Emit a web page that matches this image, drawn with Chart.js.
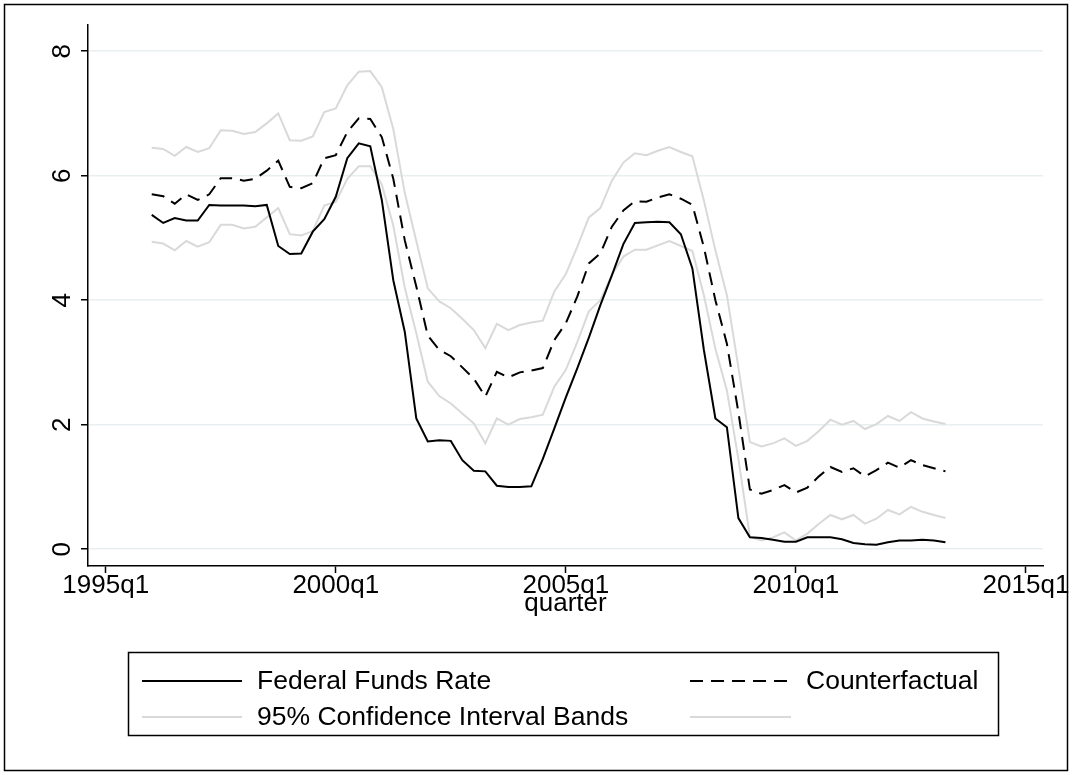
<!DOCTYPE html>
<html><head><meta charset="utf-8">
<script src="https://cdn.jsdelivr.net/npm/chart.js@4/dist/chart.umd.min.js"></script>
<style>html,body{margin:0;padding:0;background:#fff;}canvas{display:block;}</style>
</head><body>
<canvas id="c" width="1072" height="775"></canvas>
<script>
const quarters = [
 '1996q1','1996q2','1996q3','1996q4','1997q1','1997q2','1997q3','1997q4',
 '1998q1','1998q2','1998q3','1998q4','1999q1','1999q2','1999q3','1999q4',
 '2000q1','2000q2','2000q3','2000q4','2001q1','2001q2','2001q3','2001q4',
 '2002q1','2002q2','2002q3','2002q4','2003q1','2003q2','2003q3','2003q4',
 '2004q1','2004q2','2004q3','2004q4','2005q1','2005q2','2005q3','2005q4',
 '2006q1','2006q2','2006q3','2006q4','2007q1','2007q2','2007q3','2007q4',
 '2008q1','2008q2','2008q3','2008q4','2009q1','2009q2','2009q3','2009q4',
 '2010q1','2010q2','2010q3','2010q4','2011q1','2011q2','2011q3','2011q4',
 '2012q1','2012q2','2012q3','2012q4','2013q1','2013q2'];
const fedFunds = [
 5.37,5.24,5.32,5.28,5.28,5.53,5.52,5.52,5.52,5.51,5.53,4.87,4.74,4.75,
 5.10,5.30,5.66,6.28,6.52,6.47,5.61,4.32,3.49,2.10,1.73,1.75,1.74,1.43,
 1.26,1.25,1.02,1.00,1.00,1.01,1.45,1.94,2.44,2.91,3.40,3.92,4.40,4.90,
 5.24,5.25,5.26,5.25,5.06,4.51,3.20,2.10,1.96,0.50,0.19,0.18,0.15,0.12,
 0.12,0.19,0.19,0.19,0.16,0.10,0.08,0.07,0.11,0.14,0.14,0.15,0.14,0.11];
const counterfactual = [
 5.70,5.67,5.55,5.70,5.61,5.70,5.96,5.96,5.92,5.95,6.08,6.24,5.82,5.80,
 5.88,6.28,6.33,6.70,6.92,6.91,6.62,5.95,4.96,4.22,3.43,3.20,3.10,2.92,
 2.74,2.45,2.85,2.76,2.84,2.87,2.91,3.36,3.63,4.06,4.59,4.75,5.18,5.44,
 5.59,5.58,5.65,5.70,5.63,5.53,4.85,4.00,3.30,2.20,0.96,0.89,0.95,1.03,
 0.91,0.99,1.17,1.32,1.24,1.30,1.17,1.27,1.39,1.31,1.43,1.35,1.30,1.25];
const ciUpper = [
 6.45,6.43,6.32,6.46,6.38,6.44,6.73,6.72,6.67,6.70,6.84,7.00,6.57,6.56,
 6.63,7.02,7.08,7.45,7.67,7.68,7.42,6.75,5.72,4.95,4.19,3.98,3.87,3.70,
 3.52,3.23,3.62,3.52,3.60,3.64,3.67,4.14,4.42,4.86,5.33,5.48,5.92,6.21,
 6.36,6.33,6.40,6.46,6.38,6.31,5.60,4.80,4.08,2.92,1.72,1.65,1.70,1.78,
 1.66,1.74,1.90,2.08,2.00,2.06,1.93,2.01,2.14,2.06,2.20,2.10,2.05,2.01];
const ciLower = [
 4.94,4.91,4.80,4.95,4.86,4.93,5.21,5.21,5.15,5.18,5.33,5.48,5.06,5.04,
 5.11,5.52,5.58,5.95,6.15,6.15,5.86,5.20,4.20,3.47,2.69,2.46,2.34,2.18,
 2.02,1.70,2.10,2.00,2.09,2.12,2.16,2.61,2.88,3.33,3.82,4.00,4.41,4.70,
 4.81,4.81,4.88,4.95,4.87,4.79,4.08,3.22,2.55,1.45,0.20,0.14,0.19,0.27,
 0.14,0.25,0.41,0.55,0.48,0.55,0.41,0.49,0.63,0.56,0.68,0.60,0.55,0.50];
const yTickValues = [0, 2, 4, 6, 8];
const xTickLabels = ['1995q1', '2000q1', '2005q1', '2010q1', '2015q1'];
const seriesNames = ['Federal Funds Rate', 'Counterfactual', '95% Confidence Interval Bands', ''];
const xTitle = 'quarter';

function tq(s) { const m = /(\d{4})q(\d)/.exec(s); return (+m[1] - 1960) * 4 + (+m[2] - 1); }
function fmtq(v) { const y = Math.floor(v / 4) + 1960; return y + 'q' + (v - (y - 1960) * 4 + 1); }
function pts(arr) { return arr.map((v, i) => ({ x: tq(quarters[i]), y: v })); }

const FONT = 'Liberation Sans, Arial, Helvetica, sans-serif';
const GRID = '#e8eff1';
const CI = '#d9d9d9';

const frameAndLegend = {
  id: 'frameAndLegend',
  afterDraw(chart) {
    const ctx = chart.ctx;
    ctx.save();
    const ys = chart.scales.y;
    ctx.fillStyle = '#000';
    ctx.font = '26px ' + FONT;
    ctx.textAlign = 'center';
    ctx.textBaseline = 'middle';
    ys.ticks.forEach(t => {
      const py = ys.getPixelForValue(t.value);
      ctx.save();
      ctx.translate(63, py);
      ctx.rotate(-Math.PI / 2);
      ctx.fillText(String(t.value), 0, 0);
      ctx.restore();
    });
    ctx.strokeStyle = '#000';
    ctx.lineWidth = 1.5;
    ctx.strokeRect(4.5, 4.5, 1063, 766);
    const bx = 128.5, by = 652.5, bw = 870, bh = 83;
    ctx.strokeRect(bx, by, bw, bh);
    const ds = chart.data.datasets;
    const entries = [
      { d: ds[0], x1: 142, x2: 242, tx: 257, y: 681, label: seriesNames[0] },
      { d: ds[1], x1: 690, x2: 795, tx: 806, y: 681, label: seriesNames[1] },
      { d: ds[2], x1: 142, x2: 242, tx: 257, y: 717, label: seriesNames[2] },
      { d: ds[3], x1: 690, x2: 791, tx: 806, y: 717, label: seriesNames[3] }
    ];
    ctx.font = '26.5px ' + FONT;
    ctx.textAlign = 'left';
    ctx.textBaseline = 'middle';
    entries.forEach(e => {
      ctx.beginPath();
      ctx.strokeStyle = e.d.borderColor;
      ctx.lineWidth = e.d.borderWidth;
      ctx.setLineDash(e.d.borderDash || []);
      ctx.moveTo(e.x1, e.y); ctx.lineTo(e.x2, e.y);
      ctx.stroke();
      ctx.setLineDash([]);
      ctx.fillStyle = '#000';
      if (e.label) ctx.fillText(e.label, e.tx, e.y + 1);
    });
    ctx.restore();
  }
};

new Chart(document.getElementById('c'), {
  type: 'line',
  data: {
    datasets: [
      { label: seriesNames[0], data: pts(fedFunds), borderColor: '#000', borderWidth: 2, pointRadius: 0, fill: false },
      { label: seriesNames[1], data: pts(counterfactual), borderColor: '#000', borderWidth: 2, borderDash: [13, 8], pointRadius: 0, fill: false },
      { label: seriesNames[2], data: pts(ciUpper), borderColor: CI, borderWidth: 2, pointRadius: 0, fill: false },
      { label: 'lower', data: pts(ciLower), borderColor: CI, borderWidth: 2, pointRadius: 0, fill: false }
    ]
  },
  options: {
    responsive: false, animation: false, devicePixelRatio: 1,
    layout: { padding: { left: 0, right: 29, top: 25, bottom: 159 } },
    plugins: { legend: { display: false }, tooltip: { enabled: false } },
    elements: { line: { tension: 0 } },
    scales: {
      x: {
        type: 'linear',
        min: tq(xTickLabels[0]) - 1.54, max: tq(xTickLabels[xTickLabels.length - 1]) + 1.48,
        afterBuildTicks: s => { s.ticks = xTickLabels.map(l => ({ value: tq(l) })); },
        afterFit: s => { s.height = 50; },
        ticks: { callback: v => fmtq(v), color: '#000', font: { family: FONT, size: 26 }, maxRotation: 0, minRotation: 0, autoSkip: false, padding: -3 },
        grid: { drawOnChartArea: false, drawTicks: true, tickLength: 7, tickColor: '#000', tickWidth: 1.5 },
        border: { display: true, color: '#000', width: 1.5 },
        title: { display: true, text: xTitle, color: '#000', font: { family: FONT, size: 26 }, padding: { top: 0, bottom: -3 } }
      },
      y: {
        min: -0.27, max: 8.42,
        afterBuildTicks: s => { s.ticks = yTickValues.map(v => ({ value: v })); },
        afterFit: s => { s.width = 88; },
        ticks: { display: false },
        grid: { color: GRID, lineWidth: 1.5, drawTicks: true, tickLength: 7, tickColor: '#000', tickWidth: 1.5 },
        border: { display: true, color: '#000', width: 1.5 }
      }
    }
  },
  plugins: [frameAndLegend]
});
</script>
</body></html>
